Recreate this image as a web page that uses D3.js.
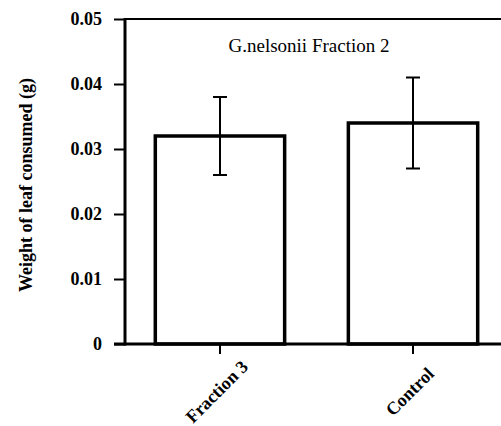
<!DOCTYPE html>
<html>
<head>
<meta charset="utf-8">
<script src="https://cdn.jsdelivr.net/npm/d3@7"></script>
<style>
body { margin: 0; background: #fff; }
svg { display: block; }
</style>
</head>
<body>
<svg id="chart"></svg>
<script>
var width = 501;
var height = 426;

// data
var categories = ["Fraction 3", "Control"];
var means = [0.032, 0.034];
var errUpper = [0.038, 0.041];
var errLower = [0.026, 0.027];
var yTicks = [0, 0.01, 0.02, 0.03, 0.04, 0.05];

var plotLeft = 125, plotTop = 19, plotBottom = 344;
var font = "'Liberation Serif', 'Times New Roman', serif";

var svg = d3.select("#chart")
.attr("width", width)
.attr("height", height);

var x = d3.scaleBand()
.domain(categories)
.range([plotLeft, 508])
.paddingInner(0.33)
.paddingOuter(0.157);

var y = d3.scaleLinear()
.domain([0, 0.05])
.range([plotBottom, plotTop]);

// bars
svg.selectAll("rect.bar")
.data(categories)
.enter().append("rect")
.attr("class", "bar")
.attr("x", function (d) { return x(d); })
.attr("y", function (d, i) { return y(means[i]); })
.attr("width", x.bandwidth())
.attr("height", function (d, i) { return y(0) - y(means[i]); })
.style("fill", "#fff")
.style("stroke", "#000")
.style("stroke-width", 3.5);

// error bars
var err = svg.selectAll("g.err")
.data(categories)
.enter().append("g")
.attr("class", "err")
.attr("transform", function (d) {
	return "translate(" + (x(d) + x.bandwidth() / 2) + ",0)";
});

err.append("line")
.attr("y1", function (d, i) { return y(errUpper[i]); })
.attr("y2", function (d, i) { return y(errLower[i]); });
err.append("line")
.attr("x1", -7).attr("x2", 7)
.attr("y1", function (d, i) { return y(errUpper[i]); })
.attr("y2", function (d, i) { return y(errUpper[i]); });
err.append("line")
.attr("x1", -7).attr("x2", 7)
.attr("y1", function (d, i) { return y(errLower[i]); })
.attr("y2", function (d, i) { return y(errLower[i]); });
err.selectAll("line")
.style("stroke", "#000")
.style("stroke-width", 2);

// frame top line
svg.append("line")
.attr("x1", plotLeft).attr("x2", width)
.attr("y1", plotTop).attr("y2", plotTop)
.style("stroke", "#000")
.style("stroke-width", 2);

// y axis
var yAxis = svg.append("g")
.attr("transform", "translate(" + plotLeft + ",0)")
.call(d3.axisLeft(y)
	.tickValues(yTicks)
	.tickSize(11)
	.tickPadding(12)
	.tickFormat(function (d) { return d === 0 ? "0" : d3.format(".2f")(d); }));
yAxis.select(".domain").remove();
yAxis.selectAll(".tick line").style("stroke-width", 2);
yAxis.selectAll("text")
.style("font-family", font)
.style("font-weight", "bold")
.style("font-size", "18px");

svg.append("line")
.attr("x1", plotLeft).attr("x2", plotLeft)
.attr("y1", plotTop - 1).attr("y2", plotBottom + 1.5)
.style("stroke", "#000")
.style("stroke-width", 3);

// x axis
var xAxis = svg.append("g")
.attr("transform", "translate(0," + plotBottom + ")")
.call(d3.axisBottom(x).tickSize(10).tickFormat(""));
xAxis.select(".domain").remove();
xAxis.selectAll(".tick line").style("stroke-width", 2);

svg.append("line")
.attr("x1", plotLeft - 11).attr("x2", width)
.attr("y1", plotBottom).attr("y2", plotBottom)
.style("stroke", "#000")
.style("stroke-width", 3);

svg.selectAll("text.xlabel")
.data(categories)
.enter().append("text")
.attr("class", "xlabel")
.attr("transform", function (d) {
	return "translate(" + (x(d) + x.bandwidth() / 2 + 1) + ",396) rotate(-45)";
})
.style("text-anchor", "middle")
.style("font-family", font)
.style("font-weight", "bold")
.style("font-size", "18px")
.text(function (d) { return d; });

// y axis title
svg.append("text")
.attr("transform", "translate(32,185) rotate(-90)")
.style("text-anchor", "middle")
.style("font-family", font)
.style("font-weight", "bold")
.style("font-size", "18px")
.text("Weight of leaf consumed (g)");

// chart title
svg.append("text")
.attr("x", 309)
.attr("y", 52)
.style("text-anchor", "middle")
.style("font-family", font)
.style("font-size", "19px")
.text("G.nelsonii Fraction 2");
</script>
</body>
</html>
